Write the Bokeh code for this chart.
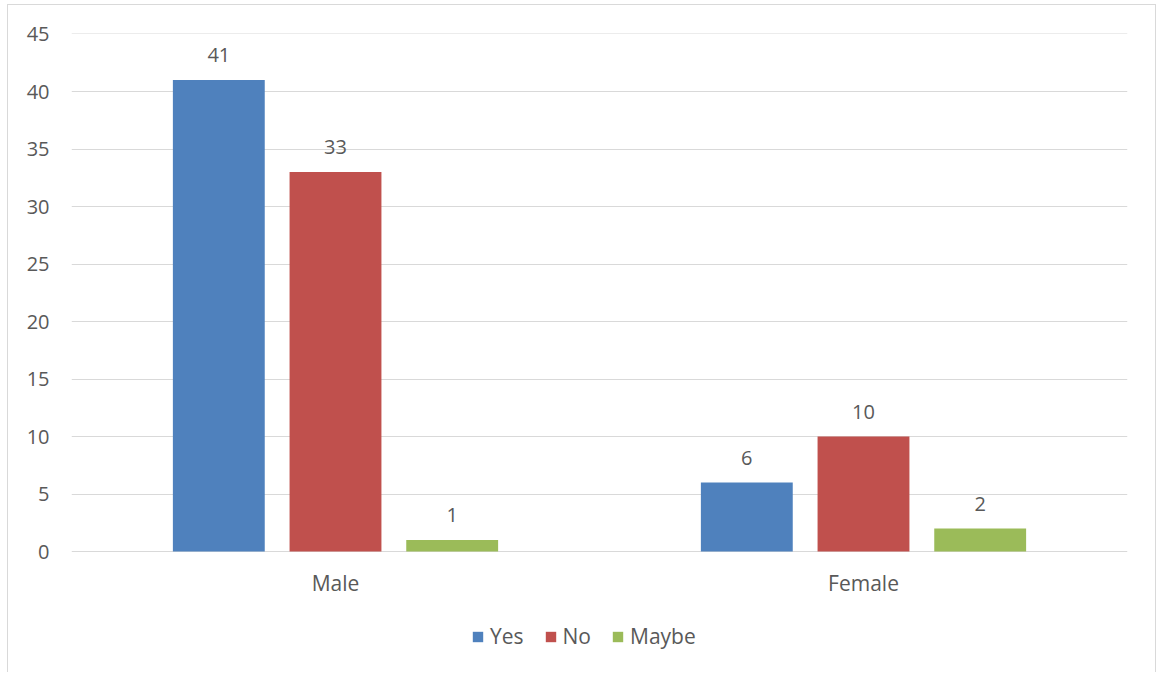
from bokeh.plotting import figure
from bokeh.models import (FactorRange, Range1d, ColumnDataSource, Legend,
                          LegendItem, FixedTicker)
from bokeh.transform import dodge
from bokeh.core.properties import value
from bokeh.embed import file_html
from bokeh.resources import INLINE

# Survey answers by gender
genders = ["Male", "Female"]
answers = ["Yes", "No", "Maybe"]
yes_counts = [41, 6]
no_counts = [33, 10]
maybe_counts = [1, 2]
y_ticks = [0, 5, 10, 15, 20, 25, 30, 35, 40, 45]

colors = ["#4F81BD", "#C0504D", "#9BBB59"]
offsets = [-0.221, 0.0, 0.221]
BAR_W = 0.174
FONT = "Open Sans"
TEXT = "#595959"
GRID = "#D9D9D9"
FS = "20px"
FS_CAT = "21px"

# Vertical layout: 45 units span 518 px; the frame also keeps room below
# the zero line for the category names and the legend.
PX_PER_UNIT = 518 / 45
Y_TOP = y_ticks[-1] + 0.5 / PX_PER_UNIT
Y_BOTTOM = -117 / PX_PER_UNIT

source = ColumnDataSource(dict(
    gender=genders,
    Yes=yes_counts,
    No=no_counts,
    Maybe=maybe_counts,
    Yes_txt=[str(v) for v in yes_counts],
    No_txt=[str(v) for v in no_counts],
    Maybe_txt=[str(v) for v in maybe_counts],
    base=[0] * len(genders),
))

# The chart sits inside a thin grey frame; the canvas starts just inside it.
p = figure(
    x_range=FactorRange(factors=genders),
    y_range=Range1d(Y_BOTTOM, Y_TOP),
    width=1149, height=668,
    min_border_left=63, min_border_right=30,
    min_border_top=28, min_border_bottom=5,
    output_backend="svg", toolbar_location=None,
    background_fill_color="white", border_fill_color="white",
)
p.outline_line_color = None
p.styles = {
    "border": "1px solid #D9D9D9",
    "border-bottom": "none",
    "margin-left": "7px",
    "margin-top": "4px",
}

renderers = []
for ans, col, off in zip(answers, colors, offsets):
    x = dodge("gender", off, range=p.x_range)
    r = p.vbar(x=x, top=ans, width=BAR_W, source=source,
               fill_color=col, line_color=None)
    renderers.append(r)
    p.text(x=x, y=ans, text=f"{ans}_txt", source=source,
           text_align="center", text_baseline="alphabetic", y_offset=-25,
           text_font=value(FONT), text_font_size=FS, text_color=TEXT)

# Category names under each group
p.text(x="gender", y="base", text="gender", source=source,
       text_align="center", text_baseline="alphabetic", y_offset=31,
       text_font=value(FONT), text_font_size=FS_CAT, text_color=TEXT)

# Axes and grid
p.xaxis.visible = False
p.xgrid.grid_line_color = None
p.ygrid.grid_line_color = GRID
p.ygrid.grid_line_width = 1
p.yaxis.ticker = FixedTicker(ticks=y_ticks)
ax = p.yaxis[0]
ax.axis_line_color = None
ax.major_tick_line_color = None
ax.minor_tick_line_color = None
ax.major_tick_out = 0
ax.major_tick_in = 0
ax.minor_tick_out = 0
ax.major_label_text_font = FONT
ax.major_label_text_color = TEXT
ax.major_label_text_font_size = FS
ax.major_label_standoff = 22

# Legend centred under the category names (px from the frame's lower-left)
legend = Legend(
    items=[LegendItem(label=a, renderers=[r]) for a, r in zip(answers, renderers)],
    orientation="horizontal", location=(400, 18),
    glyph_width=13, glyph_height=13, label_standoff=6, spacing=20,
    label_text_font=FONT, label_text_font_size=FS_CAT, label_text_color=TEXT,
    border_line_color=None, background_fill_alpha=0,
    padding=0, margin=0,
)
p.add_layout(legend)

open("out.html", "w").write(file_html(p, INLINE))
